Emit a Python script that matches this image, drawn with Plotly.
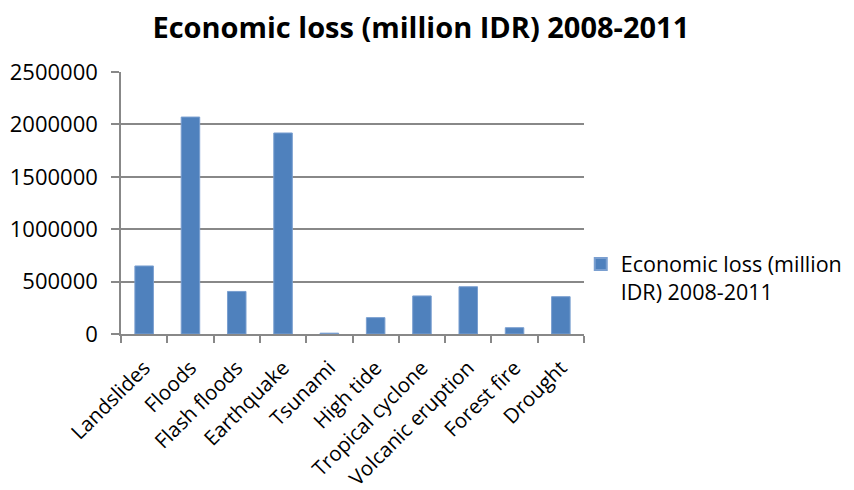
import plotly.graph_objects as go

categories = ["Landslides", "Floods", "Flash floods", "Earthquake", "Tsunami",
              "High tide", "Tropical cyclone", "Volcanic eruption", "Forest fire", "Drought"]
loss = [649000, 2070000, 406000, 1918000, 8000, 156000, 363000, 451000, 60000, 356000]
y_ticks = [0, 500000, 1000000, 1500000, 2000000, 2500000]

FONT = "Open Sans"

fig = go.Figure()
fig.add_trace(go.Bar(
    x=categories, y=loss,
    name="Economic loss (million<br>IDR) 2008-2011",
    marker=dict(color="#4f81bd", line=dict(color="#7a9fd0", width=1)),
    showlegend=True,
))

# page body has an 8px margin, so the figure is 8px smaller and offsets shifted
fig.update_layout(
    width=846, height=482,
    margin=dict(l=113, r=270, t=64, b=156, autoexpand=False),
    paper_bgcolor="white", plot_bgcolor="white",
    bargap=0.6,
    font=dict(family=FONT, size=21, color="black"),
    title=dict(text="<b>Economic loss (million IDR) 2008-2011</b>",
               x=0.488, xanchor="center", y=0.958, yanchor="middle",
               font=dict(family=FONT, size=29, color="black")),
    legend=dict(x=0.993, xanchor="left", y=0.345, yanchor="top",
                valign="top",
                font=dict(family=FONT, size=21.5, color="black"),
                bgcolor="rgba(0,0,0,0)", itemsizing="constant",
                itemwidth=30, tracegroupgap=0),
    showlegend=True,
)

fig.update_xaxes(
    type="category", tickangle=-45, tickson="boundaries",
    ticks="outside", ticklen=7, tickcolor="#888888", tickwidth=1.5,
    showline=True, linecolor="#888888", linewidth=1.5,
    showgrid=False, automargin=False, ticklabelstandoff=12,
    tickfont=dict(family=FONT, size=20.5, color="black"),
)
fig.update_yaxes(
    range=[0, 2500000], tickvals=y_ticks,
    ticktext=[str(v) for v in y_ticks],
    ticks="outside", ticklen=8, tickcolor="#888888", tickwidth=1.5,
    showline=True, linecolor="#888888", linewidth=1.5,
    showgrid=True, gridcolor="#888888", gridwidth=1.5,
    zeroline=False, automargin=False, ticklabelstandoff=9,
    tickfont=dict(family=FONT, size=22, color="black"),
)

fig.write_html("out.html")
